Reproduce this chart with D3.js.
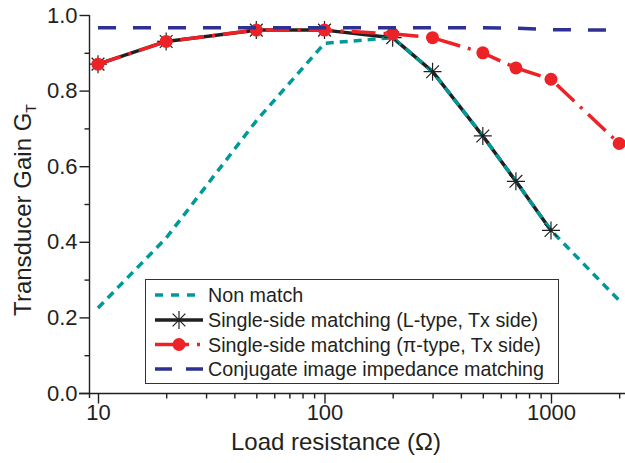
<!DOCTYPE html>
<html>
<head>
<meta charset="utf-8">
<script src="https://cdn.jsdelivr.net/npm/d3@7"></script>
<style>
  html, body { margin: 0; padding: 0; background: #fff; }
  svg { display: block; }
  text { font-family: "Liberation Sans", Arial, Helvetica, sans-serif; fill: #231f20; }
</style>
</head>
<body>
<svg id="chart" width="625" height="463"></svg>
<script>
// ---- data ----
const loadR = [10, 20, 50, 100, 200, 300, 500, 700, 1000, 2000];
const nonMatch = [0.225, 0.41, 0.72, 0.925, 0.94, 0.85, 0.68, 0.56, 0.43, 0.245];
const lTypeR = [10, 20, 50, 100, 200, 300, 500, 700, 1000];
const lType = [0.87, 0.93, 0.96, 0.96, 0.94, 0.85, 0.68, 0.56, 0.43];
const piType = [0.87, 0.93, 0.96, 0.96, 0.95, 0.94, 0.90, 0.86, 0.83, 0.66];
const conjugate = [0.966, 0.966, 0.966, 0.966, 0.966, 0.966, 0.966, 0.965, 0.961, 0.960];
const yMajorTicks = [0, 0.2, 0.4, 0.6, 0.8, 1.0];
const yMinorTicks = [0.1, 0.3, 0.5, 0.7, 0.9];
const xMajorTicks = [10, 100, 1000];
const xMinorTicks = [20, 30, 40, 50, 60, 70, 80, 90, 200, 300, 400, 500, 600, 700, 800, 900, 2000];
const legendLabels = [
  "Non match",
  "Single-side matching (L-type, Tx side)",
  "Single-side matching (\u03c0-type, Tx side)",
  "Conjugate image impedance matching"
];

const colors = { teal: "#00999a", black: "#231f20", red: "#ec2227", blue: "#2e3192" };

const svg = d3.select("#chart");
const x = d3.scaleLog().domain([9.126, 2122]).range([89, 625]);
const y = d3.scaleLinear().domain([0, 1]).range([393, 15]);

// ---- axes ----
const axisColor = "#231f20";
const gx = svg.append("g").attr("transform", "translate(0,393.5)");
gx.call(d3.axisBottom(x).tickValues(xMajorTicks).tickSize(10).tickPadding(1).tickFormat(d3.format("d")));
gx.append("g").call(d3.axisBottom(x).tickValues(xMinorTicks).tickSize(5).tickFormat(""))
  .select(".domain").remove();
gx.selectAll(".domain").attr("d", "M79,0H625");
gx.selectAll("text").attr("font-size", 22).style("font-family", "Liberation Sans, Arial, sans-serif").attr("fill", axisColor);

const gy = svg.append("g").attr("transform", "translate(89.5,0)");
gy.call(d3.axisLeft(y).tickValues(yMajorTicks).tickSize(10).tickPadding(2).tickFormat(d3.format(".1f")));
gy.append("g").call(d3.axisLeft(y).tickValues(yMinorTicks).tickSize(5).tickFormat(""))
  .select(".domain").remove();
gy.selectAll(".domain").attr("d", "M0,15V398");
gy.selectAll("text").attr("font-size", 22).style("font-family", "Liberation Sans, Arial, sans-serif").attr("fill", axisColor);

svg.selectAll(".domain, .tick line").attr("stroke", axisColor).attr("stroke-width", 1.4);

// axis titles
svg.append("text").attr("x", 336).attr("y", 450).attr("text-anchor", "middle")
  .attr("font-size", 24).text("Load resistance (\u03a9)");
const yt = svg.append("text").attr("transform", "translate(31,210) rotate(-90)")
  .attr("text-anchor", "middle").attr("font-size", 24);
yt.append("tspan").text("Transducer Gain G");
yt.append("tspan").attr("font-size", 14).attr("dy", 5).text("T");

// ---- series ----
const line = d3.line().x(d => x(d[0])).y(d => y(d[1]));
const zip = (xs, ys) => xs.map((v, i) => [v, ys[i]]);

const lData = zip(lTypeR, lType);
const tData = zip(loadR, nonMatch);
const pData = zip(loadR, piType);
const cData = zip(loadR, conjugate);

// black L-type line
svg.append("path").datum(lData).attr("d", line).attr("fill", "none")
  .attr("stroke", colors.black).attr("stroke-width", 3.5).attr("stroke-linejoin", "round");
// teal non-match
svg.append("path").datum(tData).attr("d", line).attr("fill", "none")
  .attr("stroke", colors.teal).attr("stroke-width", 3.5).attr("stroke-dasharray", "8,6");
// stars
const starR = 9, dg = starR * Math.SQRT1_2;
const starPath = `M${-starR},0H${starR}M0,${-starR}V${starR}M${-dg},${-dg}L${dg},${dg}M${-dg},${dg}L${dg},${-dg}`;
svg.append("g").selectAll("path").data(lData).join("path")
  .attr("transform", d => `translate(${x(d[0])},${y(d[1])})`)
  .attr("d", starPath).attr("stroke", colors.black).attr("stroke-width", 1.2).attr("fill", "none");
// red pi-type
svg.append("path").datum(pData).attr("d", line).attr("fill", "none")
  .attr("stroke", colors.red).attr("stroke-width", 3.5).attr("stroke-dasharray", "24,8,3,8");
svg.append("g").selectAll("circle").data(pData).join("circle")
  .attr("cx", d => x(d[0])).attr("cy", d => y(d[1])).attr("r", 6.5).attr("fill", colors.red);
// blue conjugate
svg.append("path").datum(cData).attr("d", line).attr("fill", "none")
  .attr("stroke", colors.blue).attr("stroke-width", 3.5).attr("stroke-dasharray", "18,17");

// ---- legend ----
const lg = svg.append("g");
lg.append("rect").attr("x", 145.5).attr("y", 279.5).attr("width", 413).attr("height", 104)
  .attr("fill", "#fff").attr("stroke", "#333").attr("stroke-width", 1);
const rowY = [295, 320, 344.5, 369];
const sx0 = 155, sx1 = 203;
// teal sample
lg.append("line").attr("x1", sx0).attr("x2", sx1).attr("y1", rowY[0]).attr("y2", rowY[0])
  .attr("stroke", colors.teal).attr("stroke-width", 3.5).attr("stroke-dasharray", "8,8");
// black sample
lg.append("line").attr("x1", sx0).attr("x2", sx1).attr("y1", rowY[1]).attr("y2", rowY[1])
  .attr("stroke", colors.black).attr("stroke-width", 3.5);
lg.append("path").attr("transform", `translate(${(sx0 + sx1) / 2},${rowY[1]})`)
  .attr("d", starPath).attr("stroke", colors.black).attr("stroke-width", 1.2).attr("fill", "none");
// red sample
lg.append("line").attr("x1", sx0).attr("x2", sx1).attr("y1", rowY[2]).attr("y2", rowY[2])
  .attr("stroke", colors.red).attr("stroke-width", 3.5).attr("stroke-dasharray", "34,8,3,8");
lg.append("circle").attr("cx", 179).attr("cy", rowY[2]).attr("r", 6.5).attr("fill", colors.red);
// blue sample
lg.append("line").attr("x1", sx0).attr("x2", sx1).attr("y1", rowY[3]).attr("y2", rowY[3])
  .attr("stroke", colors.blue).attr("stroke-width", 3.5).attr("stroke-dasharray", "17,14");

lg.selectAll("text.lbl").data(legendLabels).join("text").attr("class", "lbl")
  .attr("x", 208).attr("y", (d, i) => rowY[i]).attr("dy", "0.36em")
  .attr("font-size", 19.7).text(d => d);
</script>
</body>
</html>
